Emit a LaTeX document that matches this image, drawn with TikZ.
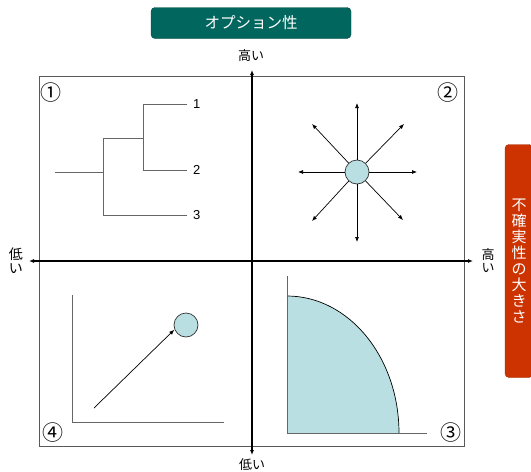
\documentclass[tikz,border=0pt]{standalone}
\usepackage{fontspec}
\setmainfont{Liberation Sans}
\newfontfamily\jp{Noto Sans CJK JP}
\usetikzlibrary{arrows.meta}
\definecolor{teal1}{RGB}{0,102,94}
\definecolor{orng}{RGB}{204,51,0}
\definecolor{ltblue}{RGB}{185,223,227}
\begin{document}
\begin{tikzpicture}[x=1pt,y=-1pt,
  frame/.style={draw=black!65, line width=0.8},
  branch/.style={draw=black!60, line width=0.9},
  axis/.style={line width=1.3, {Latex[length=5,width=4]}-{Latex[length=5,width=4]}},
  ray/.style={-{Latex[length=5,width=4]}, line width=0.7},
  ball/.style={circle, draw=black!80, line width=0.7, fill=ltblue, minimum size=24, inner sep=0},
  jplabel/.style={font=\jp\fontsize{13}{13}\selectfont, inner sep=0, align=center},
  circnum/.style={font=\jp\fontsize{21}{21}\selectfont, inner sep=0},
  num/.style={font=\fontsize{13}{13}\selectfont, inner sep=0},
  lshape/.style={draw=black!60, line width=1}
]
\useasboundingbox (0,0) rectangle (531,472);

% title
\node[fill=teal1, draw=teal1!70!black, rounded corners=4, minimum width=200, minimum height=31,
      text=white, font=\jp\fontsize{15.5}{15.5}\selectfont] (title) at (251,23) {オプション性};

% uncertainty box
\node[fill=orng, draw=orng!80!black, rounded corners=4, minimum width=28, minimum height=233,
      text=white, font=\jp\fontsize{15}{16}\selectfont, align=center, inner sep=0] (unc) at (519,261)
      {不\\確\\実\\性\\の\\大\\き\\さ};

% frame
\draw[frame] (39,76) rectangle (464,446);

% axes
\coordinate (vtop) at (252,70);
\coordinate (vbot) at (252,455);
\coordinate (hleft) at (29,261);
\coordinate (hright) at (473,261);
\draw[axis] (vbot) -- (vtop);
\draw[axis] (hleft) -- (hright);

% axis labels
\node[jplabel] (hiTop) at (251,56) {高い};
\node[jplabel] (loBot) at (252,465) {低い};
\node[jplabel, font=\jp\fontsize{14}{14}\selectfont] (loLeft) at (16,261) {低\\い};
\node[jplabel] (hiRight) at (488,261) {高\\い};

% quadrant numbers
\node[circnum] (q1) at (51,93) {①};
\node[circnum] (q2) at (448,93) {②};
\node[circnum] (q3) at (451,433) {③};
\node[circnum] (q4) at (53,433) {④};

% Q1 tree
\coordinate (t0) at (55,172);
\coordinate (t1) at (103,172);
\coordinate (t1a) at (103,138);
\coordinate (t1b) at (103,215);
\coordinate (t2) at (143,138);
\coordinate (t2a) at (143,104);
\coordinate (t2b) at (143,170);
\node[num, anchor=west] (n1) at (193,104) {1};
\node[num, anchor=west] (n2) at (193,170) {2};
\node[num, anchor=west] (n3) at (193,215) {3};
\draw[branch] (t0) -- (t1);
\draw[branch] (t1a) -- (t1b);
\draw[branch] (t1a) -- (t2);
\draw[branch] (t2a) -- (t2b);
\draw[branch] (t2a) -- ++(44,0);
\draw[branch] (t2b) -- ++(44,0);
\draw[branch] (t1b) -- ++(84,0);

% Q2 star
\node[ball] (b2) at (357,172) {};
\coordinate (r1) at (357,103);
\coordinate (r2) at (357,242);
\coordinate (r3) at (298,172);
\coordinate (r4) at (417,172);
\coordinate (r5) at (312,124);
\coordinate (r6) at (404,124);
\coordinate (r7) at (312,221);
\coordinate (r8) at (403,220);
\foreach \r in {r1,r2,r3,r4,r5,r6,r7,r8} \draw[ray] (b2) -- (\r);

% Q4
\coordinate (l4top) at (72,295);
\coordinate (l4corner) at (72,422);
\coordinate (l4right) at (224,422);
\draw[lshape] (l4top) -- (l4corner) -- (l4right);
\node[ball] (b4) at (186,325) {};
\coordinate (a4) at (94,408);
\draw[ray] (a4) -- ([xshift=-3,yshift=4]b4.south west);

% Q3
\fill[ltblue] (287,433) -- (287,296) arc[start angle=-90, end angle=0, x radius=112, y radius=137] -- cycle;
\draw[line width=0.7] (287,296) arc[start angle=-90, end angle=0, x radius=112, y radius=137];
\coordinate (l3top) at (287,276);
\coordinate (l3corner) at (287,433);
\coordinate (l3right) at (427,433);
\draw[lshape] (l3top) -- (l3corner) -- (l3right);
\end{tikzpicture}
\end{document}
